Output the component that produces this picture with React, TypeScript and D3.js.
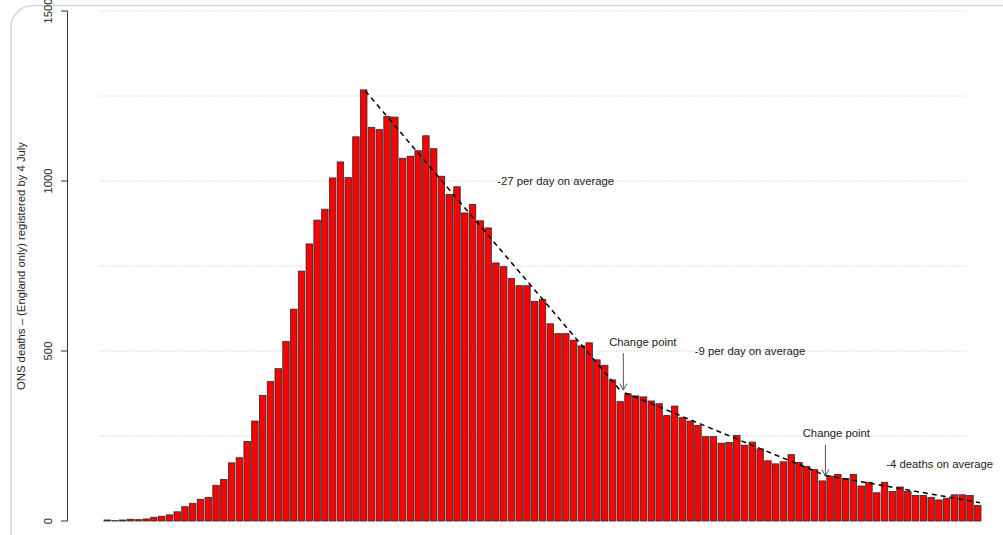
import React from 'react';
import * as d3 from 'd3';

// Daily ONS deaths (England only) registered by 4 July
const deaths = [
  3, 1, 3, 5, 4, 6, 11, 14, 18, 27,
  42, 52, 64, 69, 105, 122, 171, 186, 234, 294,
  369, 410, 448, 528, 623, 735, 815, 885, 917, 1009,
  1056, 1010, 1130, 1268, 1158, 1151, 1190, 1188, 1067, 1073,
  1089, 1133, 1095, 1014, 960, 983, 906, 931, 883, 862,
  759, 748, 713, 692, 692, 646, 652, 580, 551, 551,
  532, 515, 524, 474, 458, 415, 351, 374, 368, 365,
  353, 345, 310, 338, 304, 294, 281, 248, 248, 229,
  231, 252, 223, 232, 212, 177, 168, 174, 195, 172,
  160, 151, 118, 132, 137, 125, 137, 103, 114, 83,
  114, 87, 100, 87, 75, 75, 69, 62, 67, 77,
  77, 75, 46,
];

const yTicks = [0, 500, 1000, 1500];
const gridValues = [250, 500, 750, 1000, 1250, 1500];

// Trend segments (day index, deaths)
const trendX0 = [33.2, 66.6, 92.4];
const trendY0 = [1265, 377, 134];
const trendX1 = [66.0, 92.4, 112.3];
const trendY1 = [384, 134, 54];

// Slope annotations
const noteText = ['-27 per day on average', '-9 per day on average', '-4 deaths on average'];
const noteX = [57.7, 82.7, 107.1];
const noteY = [1000, 500, 168];

// Change point labels and arrows
const cpLabelX = [68.9, 93.8];
const cpLabelY = [526, 259];
const cpArrowX = [66.4, 92.4];
const cpArrowFrom = [494, 224];
const cpArrowTo = [385, 132];

const yLabel = 'ONS deaths \u2013 (England only) registered by 4 July';

const W = 1003;
const H = 535;
const FONT = '"Liberation Sans", Arial, Helvetica, sans-serif';
const FS = 11.3;

export default function App() {
  const idx = deaths.map((_, i) => i);
  const x = d3.scaleBand<number>().domain(idx).range([104, 981]).paddingInner(1 / 6).paddingOuter(0);
  const y = d3.scaleLinear().domain([0, 1500]).range([521, 11]);
  const step = x.step();
  const bw = x.bandwidth();
  const xc = (i: number) => (x(0) as number) + i * step + bw / 2;

  const line = d3.line<[number, number]>().x((d) => xc(d[0])).y((d) => y(d[1]));

  return (
    <svg width={W} height={H} style={{ position: 'absolute', left: 0, top: 0, background: '#fff' }} fontFamily={FONT}>
      {/* frame */}
      <rect x={11} y={5.5} width={1020} height={560} rx={22} ry={22} fill="none" stroke="#cfd9e3" strokeWidth={1.6} />

      {/* grid */}
      {gridValues.map((v) => (
        <line key={v} x1={100} x2={965} y1={y(v)} y2={y(v)} stroke="#d4d4d4" strokeWidth={1} strokeDasharray="1.5,1.5" />
      ))}

      {/* bars */}
      {deaths.map((d, i) => (
        <rect
          key={i}
          x={x(i)}
          y={y(d)}
          width={bw}
          height={y(0) - y(d)}
          fill="#ff0000"
          stroke="#2a2a2a"
          strokeWidth={0.8}
        />
      ))}

      {/* trend lines */}
      {trendX0.map((x0, k) => (
        <path
          key={k}
          d={line([[x0, trendY0[k]], [trendX1[k], trendY1[k]]]) || ''}
          fill="none"
          stroke="#000"
          strokeWidth={1.5}
          strokeDasharray="5,4"
        />
      ))}

      {/* y axis */}
      <line x1={67.5} x2={67.5} y1={y(0)} y2={y(1500)} stroke="#333" strokeWidth={1} />
      {yTicks.map((t) => (
        <g key={t}>
          <line x1={61} x2={67.5} y1={y(t)} y2={y(t)} stroke="#333" strokeWidth={1} />
          <text
            transform={`translate(48,${y(t)}) rotate(-90)`}
            textAnchor="middle"
            dy="0.35em"
            fontSize={FS}
            fill="#222"
          >
            {t}
          </text>
        </g>
      ))}
      <text
        transform={`translate(21.5,${(y(0) + y(1500)) / 2}) rotate(-90)`}
        textAnchor="middle"
        dy="0.35em"
        fontSize={FS}
        fill="#222"
      >
        {yLabel}
      </text>

      {/* slope notes */}
      {noteText.map((t, k) => (
        <text key={t} x={xc(noteX[k])} y={y(noteY[k])} dy="0.35em" textAnchor="middle" fontSize={FS} fill="#222">
          {t}
        </text>
      ))}

      {/* change points */}
      {cpLabelX.map((lx, k) => {
        const ax = xc(cpArrowX[k]);
        const ay0 = y(cpArrowFrom[k]);
        const ay1 = y(cpArrowTo[k]);
        return (
          <g key={k}>
            <text x={xc(lx)} y={y(cpLabelY[k])} dy="0.35em" textAnchor="middle" fontSize={FS} fill="#222">
              Change point
            </text>
            <line x1={ax} x2={ax} y1={ay0} y2={ay1} stroke="#555" strokeWidth={1} />
            <path d={`M${ax - 3.5},${ay1 - 6.5} L${ax},${ay1} L${ax + 3.5},${ay1 - 6.5}`} fill="none" stroke="#555" strokeWidth={1} />
          </g>
        );
      })}
    </svg>
  );
}
